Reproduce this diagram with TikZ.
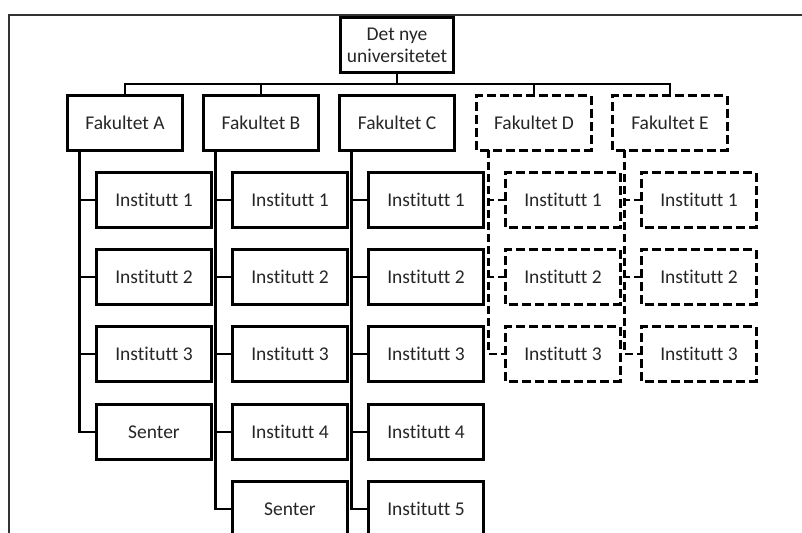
\documentclass[tikz,border=0pt]{standalone}
\usepackage{fontspec}
\setmainfont{Carlito}[Ligatures=NoCommon]
\begin{document}
\begin{tikzpicture}[x=1pt,y=-1pt,
  unit/.style={fill=white, minimum width=114pt, minimum height=54pt,
    inner sep=0pt, align=center, text=black!85, font=\fontsize{19.5}{22}\selectfont},
  planned/.style={unit},
  outline/.style={line width=2.8pt, draw=black},
  doutline/.style={outline, dash pattern=on 9pt off 4pt},
  link/.style={line width=2.8pt, draw=black},
  dlink/.style={link, dash pattern=on 8pt off 4pt}]
\clip (0,0) rectangle (802,532);
\fill[white] (0,0) rectangle (802,532);
% outer frame
\draw[line width=1.2pt, black!80] (9,540) -- (9,15) -- (810,15);

% top level
\node[unit, minimum width=112pt] (root) at (397,45) {Det nye\\universitetet};

% faculties
\node[unit] (fA) at (125,123) {Fakultet A};
\node[unit] (fB) at (261,123) {Fakultet B};
\node[unit] (fC) at (397,123) {Fakultet C};
\node[planned] (fD) at (534,123) {Fakultet D};
\node[planned] (fE) at (670,123) {Fakultet E};

% bus from the top
\coordinate (bus) at (397,84);
\draw[link] (root.south) -- (bus);
\draw[link] (fA.north) |- (bus) -| (fE.north);
\draw[link] (fB.north) -- (fB.north |- bus);
\draw[link] (fD.north) -- (fD.north |- bus);

% departments, faculty A
\node[unit] (A1) at (154,200) {Institutt 1};
\node[unit] (A2) at (154,277) {Institutt 2};
\node[unit] (A3) at (154,354) {Institutt 3};
\node[unit] (A4) at (154,432) {Senter};
% faculty B
\node[unit] (B1) at (290,200) {Institutt 1};
\node[unit] (B2) at (290,277) {Institutt 2};
\node[unit] (B3) at (290,354) {Institutt 3};
\node[unit] (B4) at (290,432) {Institutt 4};
\node[unit] (B5) at (290,509) {Senter};
% faculty C
\node[unit] (C1) at (426,200) {Institutt 1};
\node[unit] (C2) at (426,277) {Institutt 2};
\node[unit] (C3) at (426,354) {Institutt 3};
\node[unit] (C4) at (426,432) {Institutt 4};
\node[unit] (C5) at (426,509) {Institutt 5};
% faculty D
\node[planned] (D1) at (563,200) {Institutt 1};
\node[planned] (D2) at (563,277) {Institutt 2};
\node[planned] (D3) at (563,354) {Institutt 3};
% faculty E
\node[planned] (E1) at (699,200) {Institutt 1};
\node[planned] (E2) at (699,277) {Institutt 2};
\node[planned] (E3) at (699,354) {Institutt 3};

% spines
\coordinate (sA) at ([xshift=12pt]fA.south west);
\coordinate (sB) at ([xshift=12pt]fB.south west);
\coordinate (sC) at ([xshift=12pt]fC.south west);
\coordinate (sD) at ([xshift=12pt]fD.south west);
\coordinate (sE) at ([xshift=12pt]fE.south west);

\draw[link] (sA) |- (A4.west);
\foreach \n in {A1,A2,A3} \draw[link] (\n.west) -- (\n.west -| sA);
\draw[link] (sB) |- (B5.west);
\foreach \n in {B1,B2,B3,B4} \draw[link] (\n.west) -- (\n.west -| sB);
\draw[link] (sC) |- (C5.west);
\foreach \n in {C1,C2,C3,C4} \draw[link] (\n.west) -- (\n.west -| sC);
\draw[dlink] (sD) |- (D3.west);
\foreach \n in {D1,D2} \draw[dlink] (\n.west) -- (\n.west -| sD);
\draw[dlink] (sE) |- (E3.west);
\foreach \n in {E1,E2} \draw[dlink] (\n.west) -- (\n.west -| sE);

% box outlines
\foreach \n in {root,fA,fB,fC,A1,A2,A3,A4,B1,B2,B3,B4,B5,C1,C2,C3,C4,C5}
  \draw[outline] (\n.south west) rectangle (\n.north east);
\foreach \n in {fD,fE,D1,D2,D3,E1,E2,E3}
  \draw[doutline] (\n.south west) rectangle (\n.north east);
\end{tikzpicture}
\end{document}
